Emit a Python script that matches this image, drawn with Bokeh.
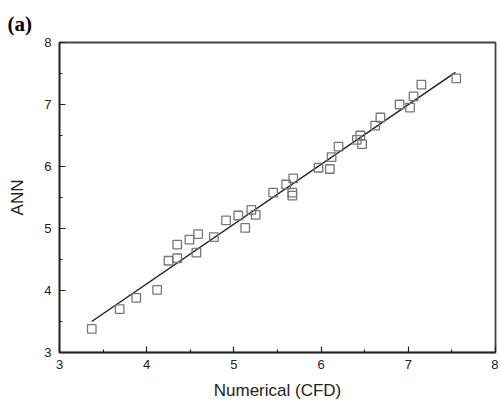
from bokeh.plotting import figure
from bokeh.models import Range1d, FixedTicker
from bokeh.embed import file_html
from bokeh.resources import INLINE

cfd = [3.37, 3.69, 3.88, 4.12, 4.25, 4.35, 4.35, 4.49, 4.57, 4.59, 4.77, 4.91, 5.05,
       5.13, 5.20, 5.25, 5.45, 5.60, 5.67, 5.67, 5.68, 5.97, 6.10, 6.12, 6.20, 6.41,
       6.45, 6.47, 6.62, 6.68, 6.90, 7.02, 7.06, 7.15, 7.55]
ann = [3.38, 3.70, 3.88, 4.01, 4.48, 4.52, 4.74, 4.82, 4.61, 4.91, 4.86, 5.13, 5.21,
       5.01, 5.30, 5.22, 5.58, 5.71, 5.58, 5.53, 5.81, 5.98, 5.96, 6.15, 6.32, 6.43,
       6.50, 6.36, 6.66, 6.79, 7.00, 6.95, 7.13, 7.32, 7.42]
fit_x = [3.37, 7.54]
fit_y = [3.50, 7.52]
ticks = [3, 4, 5, 6, 7, 8]
minor = [3.5, 4.5, 5.5, 6.5, 7.5]

p = figure(width=498, height=402, output_backend="svg", toolbar_location=None,
           x_range=Range1d(3, 8), y_range=Range1d(3, 8), title="(a)",
           min_border_left=59, min_border_right=3, min_border_top=42, min_border_bottom=48)
p.title.align = "left"
p.title.offset = -52
p.title.standoff = 14
p.title.text_font = "Liberation Serif"
p.title.text_font_style = "bold"
p.title.text_font_size = "21px"
p.title.text_color = "black"

p.grid.visible = False
p.outline_line_color = "#444444"
p.outline_line_width = 1.8
p.background_fill_color = "white"
p.border_fill_color = "white"

for ax in (p.xaxis[0], p.yaxis[0]):
    ax.ticker = FixedTicker(ticks=ticks, minor_ticks=minor)
    ax.major_tick_in = 6
    ax.major_tick_out = 0
    ax.minor_tick_in = 3
    ax.minor_tick_out = 0
    ax.axis_line_color = "#222222"
    ax.axis_line_width = 1.5
    ax.major_tick_line_color = "#222222"
    ax.minor_tick_line_color = "#222222"
    ax.major_tick_line_width = 1.2
    ax.minor_tick_line_width = 1.2
    ax.major_label_text_font = "Liberation Sans"
    ax.major_label_text_font_size = "13px"
    ax.major_label_text_color = "#222222"
    ax.axis_label_text_font = "Liberation Sans"
    ax.axis_label_text_font_size = "17px"
    ax.axis_label_text_font_style = "normal"
    ax.axis_label_text_color = "#222222"

p.xaxis.axis_label = "Numerical (CFD)"
p.yaxis.axis_label = "ANN"
p.xaxis.major_label_standoff = 7
p.yaxis.major_label_standoff = 8
p.xaxis.axis_label_standoff = 9
p.yaxis.axis_label_standoff = 14

p.line(fit_x, fit_y, line_color="#222222", line_width=1.5)
p.scatter(cfd, ann, marker="square", size=8.5, fill_color=None,
          line_color="#777777", line_width=1.3)

open("out.html", "w").write(file_html(p, INLINE))
